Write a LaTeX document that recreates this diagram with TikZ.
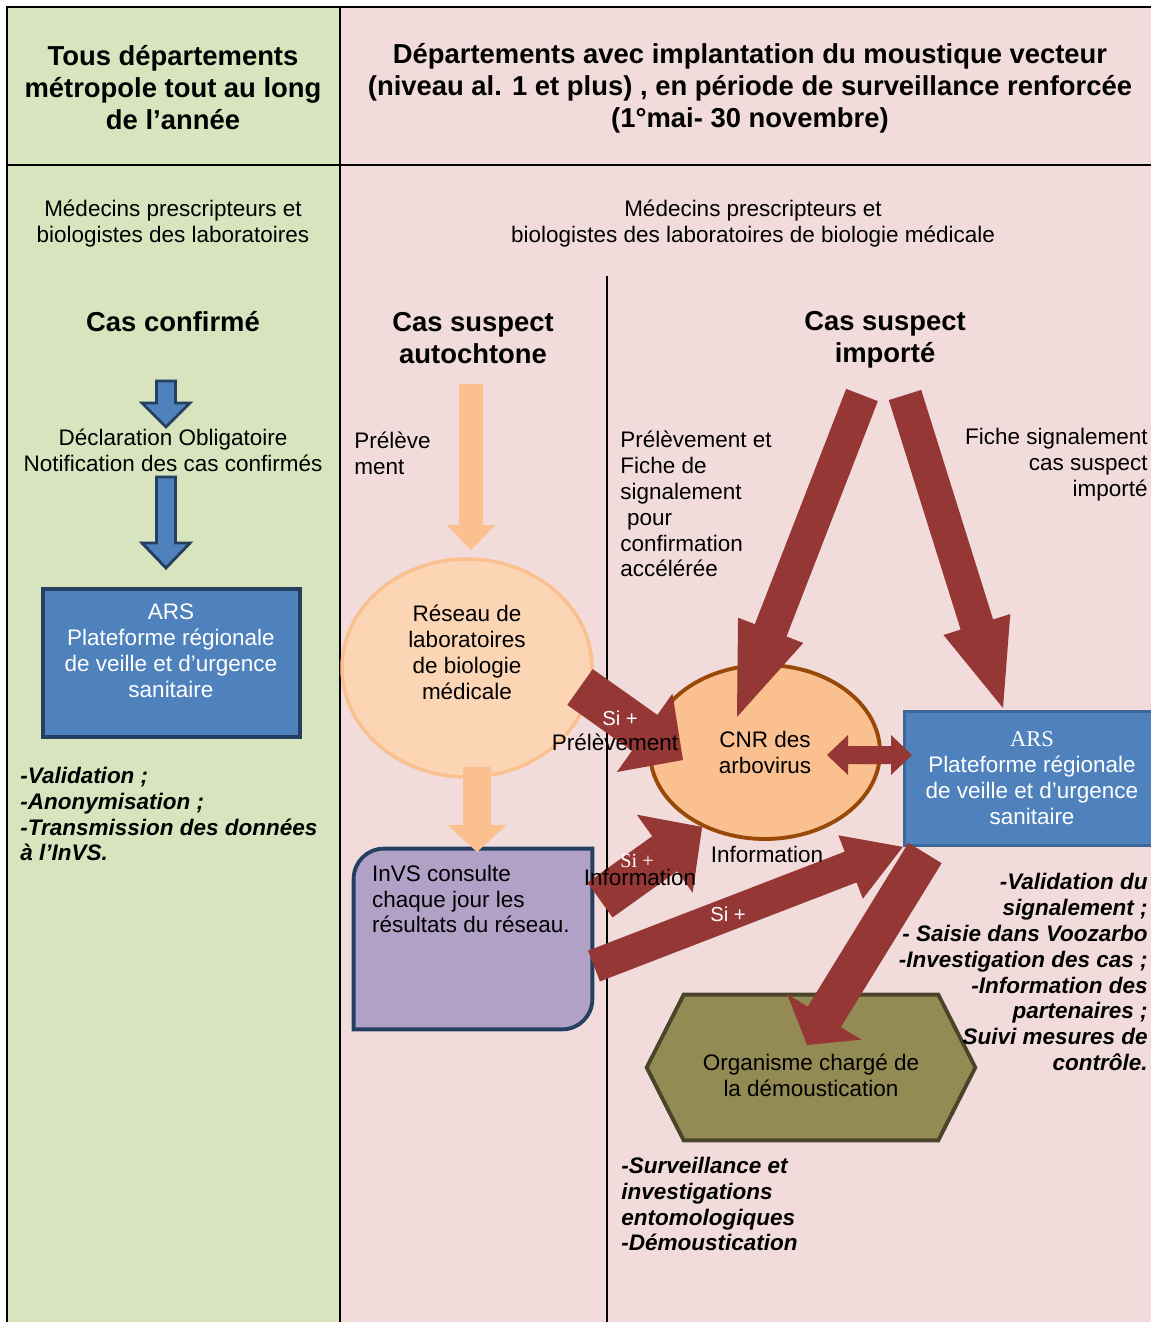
\documentclass[tikz,border=0pt]{standalone}
\usepackage{fontspec}
\setmainfont{Liberation Sans}
\newfontfamily\timesfont{Liberation Serif}
\usetikzlibrary{calc,shapes.geometric}

\definecolor{vertfond}{HTML}{D7E4BD}
\definecolor{rosefond}{HTML}{F2DCDB}
\definecolor{bleuARS}{HTML}{4F81BD}
\definecolor{bleufonce}{HTML}{243F60}
\definecolor{bleubord}{HTML}{3D6796}
\definecolor{rougefleche}{HTML}{953735}
\definecolor{orangeclair}{HTML}{FCD5B5}
\definecolor{orangefleche}{HTML}{FAC090}
\definecolor{brunCNR}{HTML}{984807}
\definecolor{violetInVS}{HTML}{B2A1C7}
\definecolor{olivedem}{HTML}{948A54}
\definecolor{olivebord}{HTML}{4A452A}

% block arrow: [style]{from}{to}{half shaft}{half head}{head length}
\newcommand{\blockarrow}[6][]{%
  \coordinate (ba-h) at ($(#3)!#6!(#2)$);
  \path[#1] ($(#2)!#4!90:(#3)$) -- ($(ba-h)!#4!90:(#3)$) -- ($(ba-h)!#5!90:(#3)$) -- (#3)
    -- ($(ba-h)!#5!-90:(#3)$) -- ($(ba-h)!#4!-90:(#3)$) -- ($(#2)!#4!-90:(#3)$) -- cycle;}

\tikzstyle{dengue_style}=[x=0.02cm,y=-0.02cm,
  every node/.style={font=\fontsize{12.8}{14.75}\selectfont},
  titre/.style={align=center,font=\fontsize{15.6}{18.2}\selectfont\bfseries},
  texte/.style={align=center},
  liste/.style={inner sep=0pt,font=\fontsize{12.8}{14.75}\selectfont\bfseries\itshape},
  ars/.style={rectangle,fill=bleuARS,draw=bleufonce,line width=2pt,text=white,align=center,inner sep=0pt},
  labo/.style={ellipse,fill=orangeclair,draw=orangefleche,line width=2pt,inner sep=0pt},
  cnr/.style={ellipse,fill=orangefleche,draw=brunCNR,line width=2.2pt,align=center,inner sep=0pt},
  invs/.style={fill=violetInVS,draw=bleufonce,line width=2.2pt},
  dem/.style={fill=olivedem,draw=olivebord,line width=2.2pt},
  bluearrow/.style={fill=bleuARS,draw=bleufonce,line width=1.6pt},
  orangearrow/.style={fill=orangefleche},
  redarrow/.style={fill=rougefleche},
  fleche/.style={text=white,font=\fontsize{11.5}{13}\selectfont},
  cadre/.style={line width=1.1pt}]

\begin{document}
\begin{tikzpicture}[dengue_style]
    \useasboundingbox (0,0) rectangle (1151,1322);

    % Draw the two column backgrounds
    \fill[vertfond] (7,7) rectangle (340,1322);
    \fill[rosefond] (340,7) rectangle (1151,1322);

    % Draw the table lines
    \draw[cadre] (7,1322) -- (7,7) -- (1151,7);
    \draw[cadre] (7,165) -- (1151,165);
    \draw[cadre] (340,7) -- (340,1322);
    \draw[cadre] (607,276) -- (607,1322);

    % Draw the headers
    \node[titre] (T-1) at (173,88) {Tous départements\\métropole tout au long\\de l’année};
    \node[titre] (T-2) at (750,88) {Départements avec implantation du moustique vecteur\\(niveau al. 1 et plus) , en période de surveillance renforcée\\(1°mai- 30 novembre)};
    \node[texte] (M-1) at (173,224) {Médecins prescripteurs et\\biologistes des laboratoires};
    \node[texte] (M-2) at (753,224) {Médecins prescripteurs et\\biologistes des laboratoires de biologie médicale};
    \node[titre] (C-1) at (173,322) {Cas confirmé};
    \node[titre] (C-2) at (473,338) {Cas suspect\\autochtone};
    \node[titre] (C-3) at (885,340) {Cas suspect\\importé};

    % Draw the boxes
    \node[ars, minimum width=5.14cm, minimum height=2.96cm] (ARS-L) at (171.5,663) {};
    \node[texte, text=white] (ARS-L-txt) at (171,651) {ARS\\Plateforme régionale\\de veille et d’urgence\\sanitaire};
    \node[labo, minimum width=5cm, minimum height=4.36cm] (LAB) at (467,668) {};
    \node[texte] (LAB-txt) at (467,652) {Réseau de\\laboratoires\\de biologie\\médicale};
    \node[cnr, minimum width=4.6cm, minimum height=3.48cm] (CNR) at (765,752) {CNR des\\arbovirus};
    \node[ars, draw=bleubord, line width=1.6pt, minimum width=5.11cm, minimum height=2.68cm] (ARS-R) at (1032,778.5)
        {{\timesfont ARS}\\Plateforme régionale\\de veille et d’urgence\\sanitaire};

    \node[inner sep=0pt, minimum width=4.76cm, minimum height=3.6cm] (INVS) at (473,939) {};
    \filldraw[invs] (INVS.west) [rounded corners=0.6cm] -- (INVS.north west) -- (INVS.north) [sharp corners]
        -- (INVS.north east) -- (INVS.east) [rounded corners=0.6cm] -- (INVS.south east) -- (INVS.south) [sharp corners]
        -- (INVS.south west) -- cycle;
    \node[anchor=west, align=left] (INVS-txt) at (366,899) {InVS consulte\\chaque jour les\\résultats du réseau.};

    \node[inner sep=0pt, minimum width=5.08cm, minimum height=2.9cm] (DEM) at (811,1067.5) {};
    \filldraw[dem] (DEM.north west) -- (DEM.north east) -- ([xshift=0.74cm]DEM.east) -- (DEM.south east)
        -- (DEM.south west) -- ([xshift=-0.74cm]DEM.west) -- cycle;
    \node[texte] (DEM-txt) at (811,1075) {Organisme chargé de\\la démoustication};

    % Arrow end points
    \coordinate (B1-s) at (166,381);  \coordinate (B1-e) at (166,427);
    \coordinate (B2-s) at (166,477);  \coordinate (B2-e) at (166,568);
    \coordinate (OR1-s) at (471,384); \coordinate (OR1-e) at (471,550);
    \coordinate (OR2-s) at (477,767); \coordinate (OR2-e) at (477,852);
    \coordinate (IMP1-s) at (862,395); \coordinate (IMP1-e) at (737,717);
    \coordinate (IMP2-s) at (905,395); \coordinate (IMP2-e) at (1003,708);
    \coordinate (PRL-s) at (580,687); \coordinate (PRL-e) at (683,760);
    \coordinate (INF-s) at (600,900);
    \coordinate (SIP-s) at (594,966);
    \coordinate (DEM-s) at (925,853); \coordinate (DEM-e) at (807,1045);
    \coordinate (DBL-l) at (827,755); \coordinate (DBL-r) at (912,755);
    \coordinate (DBL-a) at (880,755); \coordinate (DBL-b) at (860,755);

    % Draw the block arrows
    \blockarrow[bluearrow]{B1-s}{B1-e}{0.19cm}{0.48cm}{0.48cm}
    \blockarrow[bluearrow]{B2-s}{B2-e}{0.19cm}{0.48cm}{0.5cm}
    \blockarrow[orangearrow]{OR1-s}{OR1-e}{0.24cm}{0.49cm}{0.5cm}
    \blockarrow[orangearrow]{OR2-s}{OR2-e}{0.28cm}{0.59cm}{0.54cm}

    \foreach \from/\to/\ws/\wh/\lh in {IMP1-s/IMP1-e/0.34cm/0.7cm/1.86cm,
                                        IMP2-s/IMP2-e/0.34cm/0.7cm/1.75cm,
                                        PRL-s/PRL-e/0.44cm/0.96cm/0.94cm,
                                        INF-s/CNR.-130/0.43cm/0.96cm/0.92cm,
                                        SIP-s/ARS-R.south west/0.33cm/0.68cm/1.12cm,
                                        DEM-s/DEM-e/0.39cm/0.87cm/0.66cm,
                                        DBL-a/DBL-l/0.18cm/0.4cm/0.42cm,
                                        DBL-b/DBL-r/0.18cm/0.4cm/0.42cm}
        {\blockarrow[redarrow]{\from}{\to}{\ws}{\wh}{\lh}}

    % Labels on the arrows
    \node[fleche] (S-1) at (620,718) {Si +};
    \node (S-2) at (615,742) {Prélèvement};
    \node[fleche, font=\timesfont\fontsize{11.5}{13}\selectfont] (S-3) at (637,861) {Si +};
    \node (S-4) at (640,877) {Information};
    \node (S-5) at (767,854) {Information};
    \node[fleche] (S-6) at (728,914) {Si +};

    % Free texts
    \node[texte] (D-1) at (173,450) {Déclaration Obligatoire\\Notification des cas confirmés};
    \node[anchor=west, align=left, inner sep=0pt] (P-1) at (354,453) {Prélève\\ment};
    \node[anchor=west, align=left, inner sep=0pt] (P-2) at (620,504)
        {Prélèvement et\\Fiche de\\signalement\\\hspace*{0.3em}pour\\confirmation\\accélérée};
    \node[anchor=east, align=right, inner sep=0pt] (P-3) at (1148,465) {Fiche signalement\\cas suspect\\importé};

    % Task lists
    \node[liste, anchor=west, align=left] (L-1) at (20,814)
        {-Validation ;\\-Anonymisation ;\\-Transmission des données\\à l’InVS.};
    \node[liste, anchor=east, align=right] (L-2) at (1148,972)
        {-Validation du\\signalement ;\\- Saisie dans Voozarbo\\-Investigation des cas ;\\-Information des\\partenaires ;\\Suivi mesures de\\contrôle.};
    \node[liste, anchor=west, align=left] (L-3) at (621,1204)
        {-Surveillance et\\investigations\\entomologiques\\-Démoustication};

\end{tikzpicture}
\end{document}
